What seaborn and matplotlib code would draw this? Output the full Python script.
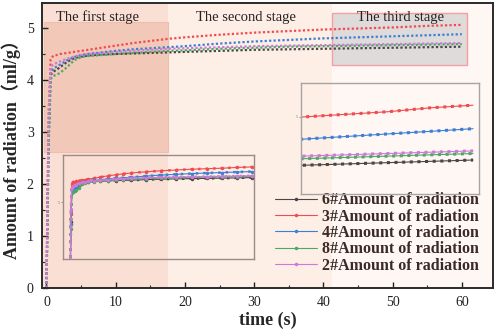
import matplotlib
matplotlib.use("Agg")
import matplotlib.pyplot as plt
from matplotlib.patches import Rectangle
import seaborn as sns

sns.set_theme(style="ticks")
plt.rcParams['font.family'] = ['Liberation Serif', 'Noto Sans CJK SC']
plt.rcParams['axes.unicode_minus'] = False

# time (s)
t = [0, 0.3, 0.6, 1, 1.5, 2, 3, 4, 5, 6, 8, 10, 12.5, 15, 17.5, 20,
     25, 30, 35, 40, 45, 50, 55, 60]

# amount of radiation (ml/g)
s6 = [0, 2.9, 4.10, 4.16, 4.20, 4.25, 4.35, 4.42, 4.45, 4.47, 4.49, 4.50,
      4.51, 4.52, 4.53, 4.54, 4.56, 4.58, 4.59, 4.60, 4.61, 4.62, 4.63, 4.64]
s3 = [0, 3.2, 4.40, 4.47, 4.48, 4.50, 4.52, 4.54, 4.56, 4.58, 4.62, 4.66,
      4.71, 4.75, 4.79, 4.82, 4.87, 4.91, 4.94, 4.97, 4.99, 5.01, 5.04, 5.06]
s4 = [0, 2.8, 4.15, 4.22, 4.26, 4.30, 4.38, 4.44, 4.48, 4.50, 4.53, 4.56,
      4.59, 4.61, 4.63, 4.65, 4.70, 4.74, 4.77, 4.80, 4.82, 4.84, 4.86, 4.88]
s8 = [0, 2.6, 4.02, 4.08, 4.10, 4.14, 4.25, 4.38, 4.44, 4.46, 4.48, 4.50,
      4.52, 4.54, 4.56, 4.57, 4.60, 4.62, 4.64, 4.65, 4.66, 4.67, 4.68, 4.69]
s2 = [0, 3.4, 4.25, 4.30, 4.33, 4.36, 4.41, 4.45, 4.48, 4.50, 4.52, 4.54,
      4.56, 4.58, 4.60, 4.61, 4.63, 4.65, 4.66, 4.67, 4.68, 4.69, 4.70, 4.71]

labels = ["6#Amount of radiation", "3#Amount of radiation", "4#Amount of radiation",
          "8#Amount of radiation", "2#Amount of radiation"]
series = [s6, s3, s4, s8, s2]
colors = ["#4a4545", "#f24b4f", "#3d7fd6", "#4ca866", "#cc7ad6"]

stage_names = ["The first stage", "The second stage", "The third stage"]
stage_x = [7.3, 28.8, 51.1]
stage_edges = [-0.65, 17.6, 41.3, 64.5]

fig = plt.figure(figsize=(4.98, 3.34), dpi=100)
ax = fig.add_axes([0.0843, 0.1377, 0.9056, 0.8533])
ax.set_facecolor("#fef7f3")

ax.axvspan(stage_edges[0], stage_edges[1], color="#fae0d4", lw=0, zorder=0)
ax.axvspan(stage_edges[1], stage_edges[2], color="#fdeee6", lw=0, zorder=0)
ax.add_patch(Rectangle((-0.4, 2.62), 17.9, 2.5, fc="#f2c8b8", ec="#eebfae",
                       lw=0.8, zorder=0.5))
ax.add_patch(Rectangle((41.3, 4.29), 19.4, 1.0, fc="#dedbda", ec="#f4a0a0",
                       lw=1.0, zorder=0.5))

for y, c in zip(series, colors):
    sns.lineplot(x=t, y=y, ax=ax, color=c, lw=1.6, linestyle=(0, (1, 1)),
                 zorder=2)

for name, x in zip(stage_names, stage_x):
    ax.text(x, 5.21, name, ha="center", va="center", fontsize=10.5,
            color="#2a2222")

ax.set_xlim(stage_edges[0], stage_edges[3])
ax.set_ylim(0, 5.48)
ax.set_xticks([0, 10, 20, 30, 40, 50, 60])
ax.set_xticks([5, 15, 25, 35, 45, 55], minor=True)
ax.set_yticks([0, 1, 2, 3, 4, 5])
ax.set_yticks([0.5, 1.5, 2.5, 3.5, 4.5], minor=True)
ax.tick_params(direction="in", length=4, width=1, labelsize=10,
               colors="#222222", pad=6)
ax.tick_params(which="minor", direction="in", length=2.5, width=0.8)
for sp in ax.spines.values():
    sp.set_color("#2a2a2a")
    sp.set_linewidth(1.4)
ax.set_xlabel("time (s)", fontsize=13, fontweight="bold", labelpad=2)
ax.set_ylabel("Amount of radiation（ml/g）", fontsize=13, fontweight="bold",
              labelpad=4)

# inset 1: whole curve
ax1 = fig.add_axes([0.1265, 0.2246, 0.3835, 0.3114])
ax1.set_facecolor("none")
handles = []
for y, c, lab in zip(series, colors, labels):
    ln = ax1.plot(t, y, color=c, lw=0.8, marker="o", ms=1.5, label=lab)[0]
    ax1.plot(t, y, color=c, lw=1.8, linestyle=(0, (1, 2)))
    handles.append(ln)
ax1.set_xlim(-2.3, 60.5)
ax1.set_ylim(1.44, 5.53)
ax1.set_xticks([])
ax1.set_yticks([3.68])
ax1.set_yticklabels(["5"])
ax1.tick_params(length=1.5, width=0.5, labelsize=3, pad=1, colors="#777777")
for sp in ax1.spines.values():
    sp.set_color("#9a8c86")
    sp.set_linewidth(1.0)

# inset 2: third stage
ax2 = fig.add_axes([0.6044, 0.4192, 0.3574, 0.3323])
ax2.set_facecolor("none")
for y, c in zip(series, colors):
    sns.lineplot(x=t, y=y, ax=ax2, color=c, lw=0.8)
    ax2.plot(t, y, color=c, lw=2.2, linestyle=(0, (1, 1.5)))
ax2.set_xlim(39.76, 60.7)
ax2.set_ylim(4.38, 5.23)
ax2.set_xticks([])
ax2.set_yticks([4.97])
ax2.set_yticklabels(["5"])
ax2.set_xlabel("")
ax2.set_ylabel("")
ax2.tick_params(length=1.5, width=0.5, labelsize=3, pad=1, colors="#777777")
for sp in ax2.spines.values():
    sp.set_color("#a8a4a2")
    sp.set_linewidth(1.0)

leg = ax.legend(handles=handles, loc="lower right", bbox_to_anchor=(1.0, 0.0),
                frameon=False, numpoints=1, handlelength=2.6, handletextpad=0.3,
                labelspacing=0.02, prop={"family": "Liberation Serif",
                                         "weight": "bold", "size": 11.5})
for txt in leg.get_texts():
    txt.set_color("#3a2a2a")

fig.savefig("out.png", dpi=100)
